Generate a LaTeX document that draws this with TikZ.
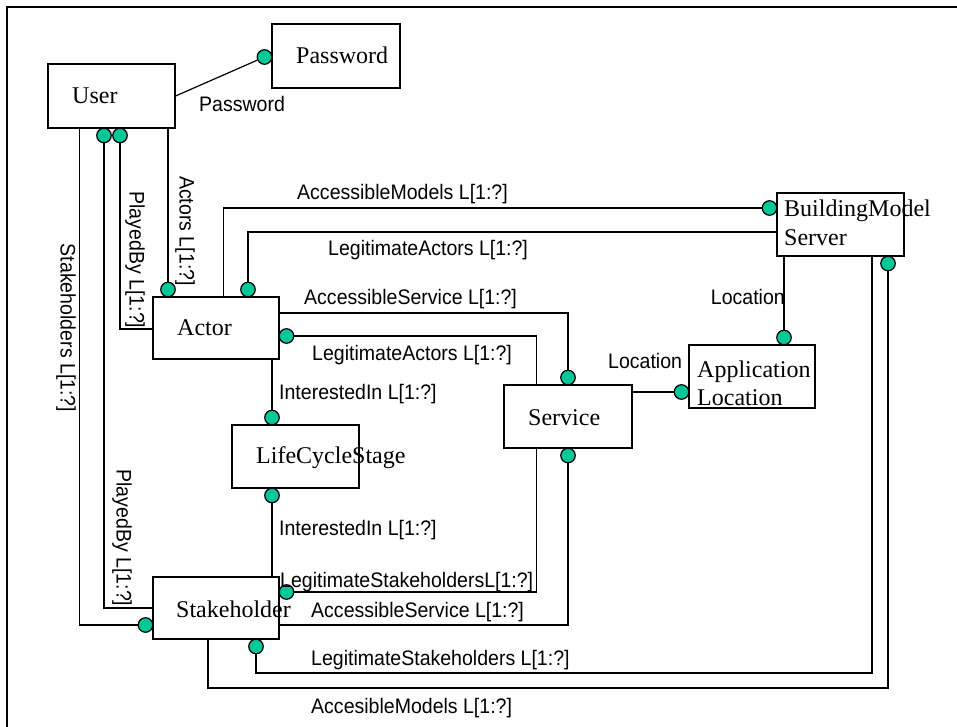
\documentclass[tikz,border=0pt]{standalone}
\usepackage{fontspec}
\setmainfont{Liberation Serif}
\newfontfamily\lblfont[FakeStretch=0.93]{Liberation Sans}
\definecolor{dotfill}{RGB}{0,200,150}
\tikzset{
  box/.style={draw, line width=1.2pt, minimum width=127pt, minimum height=63pt, inner sep=0pt},
  boxtext/.style={font=\fontsize{24}{28}\selectfont, inner sep=0pt, anchor=base west},
  lbl/.style={font=\lblfont\fontsize{21}{25}\selectfont, inner sep=0pt, anchor=base west},
  vlbl/.style={font=\lblfont\fontsize{21}{25}\selectfont, inner sep=0pt, rotate=-90},
  dot/.style={circle, draw, fill=dotfill, line width=1.2pt, minimum size=14.5pt, inner sep=0pt},
  conn/.style={line width=1.2pt},
}
\begin{document}
\begin{tikzpicture}[x=1pt,y=-1pt]
\useasboundingbox (0,0) rectangle (957,727);
% frame
\draw[line width=2pt] (7,727) -- (7,7) -- (957,7);

% entity boxes
\node[box, minimum width=127pt, minimum height=64pt] (user) at (111.5,96) {};
\node[box, minimum width=128pt, minimum height=64pt] (password) at (336,56) {};
\node[box, minimum width=126pt, minimum height=62pt] (actor) at (216,328) {};
\node[box] (bms) at (840.5,224.5) {};
\node[box, minimum width=126pt] (apploc) at (752,376.5) {};
\node[box, minimum width=128pt] (service) at (568,416.5) {};
\node[box] (lcs) at (295.5,456.5) {};
\node[box, minimum width=126pt, minimum height=62pt] (stake) at (216,608) {};

% box texts
\node[boxtext] (usert) at (72,104) {User};
\node[boxtext] (passwordt) at (296,64) {Password};
\node[boxtext] (actort) at (177,335) {Actor};
\node[boxtext] (bmst1) at (784,217) {BuildingModel};
\node[boxtext] (bmst2) at (784,245) {Server};
\node[boxtext] (apploct1) at (697,377) {Application};
\node[boxtext] (apploct2) at (697,405) {Location};
\node[boxtext] (servicet) at (528,425) {Service};
\node[boxtext] (lcst) at (256,463) {LifeCycleStage};
\node[boxtext] (staket) at (176,617) {Stakeholder};

% role ends
\node[dot] (dPw) at (264.5,57) {};
\node[dot] (dPlay1) at (104,135.5) {};
\node[dot] (dPlay2) at (120,135.5) {};
\node[dot] (dActU) at (168,289.5) {};
\node[dot] (dLA1) at (248,289.5) {};
\node[dot] (dAM1) at (769.5,208) {};
\node[dot] (dAS1) at (568,377.5) {};
\node[dot] (dLA2) at (286.5,336) {};
\node[dot] (dInt1) at (272,417.5) {};
\node[dot] (dInt2) at (272,495.5) {};
\node[dot] (dLoc1) at (681.5,392) {};
\node[dot] (dLoc2) at (784,337.5) {};
\node[dot] (dLS1) at (286.5,592) {};
\node[dot] (dAS2) at (568,455.5) {};
\node[dot] (dLS2) at (256,646.5) {};
\node[dot] (dAM2) at (888,263.5) {};
\node[dot] (dStk) at (145.5,625) {};

% bends of the two outer connectors
\coordinate (cLS) at (872,673);
\coordinate (cAM) at (888,688);

% connectors
\draw[conn] (user.east) -- (dPw);
\draw[conn] ([xshift=32pt]user.south west) |- (dStk);
\draw[conn] (dPlay1) |- (stake.west);
\draw[conn] (dPlay2) |- ([yshift=-1pt]actor.west);
\draw[conn] (user.south -| dActU) -- (dActU);
\draw[conn] ([xshift=71pt]actor.north west) |- (dAM1);
\draw[conn] (dLA1) |- ([yshift=-7.5pt]bms.west);
\draw[conn] ([yshift=15pt]actor.east) -| (dAS1);
\draw[conn] (dLA2) -| ([xshift=33pt]service.north west);
\draw[conn] (actor.south -| dInt1) -- (dInt1);
\draw[conn] (dInt2) -- (stake.north -| dInt2);
\draw[conn] (service.east |- dLoc1) -- (dLoc1);
\draw[conn] (bms.south -| dLoc2) -- (dLoc2);
\draw[conn] ([xshift=33pt]service.south west) |- (dLS1);
\draw[conn] ([yshift=-17pt]stake.east) -| (dAS2);
\draw[conn] (dLS2) |- (cLS) -- (bms.south -| cLS);
\draw[conn] ([xshift=-8pt]stake.south) |- (cAM) -- (dAM2);

% role labels
\node[lbl] (lPw) at (199,112) {Password};
\node[lbl] (lAM1) at (297,200) {AccessibleModels L[1:?]};
\node[lbl] (lLA1) at (328,255) {LegitimateActors L[1:?]};
\node[lbl] (lAS1) at (304,304) {AccessibleService L[1:?]};
\node[lbl] (lLA2) at (312,360) {LegitimateActors L[1:?]};
\node[lbl] (lLoc1) at (608,368) {Location};
\node[lbl, anchor=base east] (lLoc2) at (785,304) {Location};
\node[lbl] (lInt1) at (279,399) {InterestedIn L[1:?]};
\node[lbl] (lInt2) at (279,535) {InterestedIn L[1:?]};
\node[lbl] (lLS1) at (280,587) {LegitimateStakeholdersL[1:?]};
\node[lbl] (lAS2) at (311,617) {AccessibleService L[1:?]};
\node[lbl] (lLS2) at (311,665) {LegitimateStakeholders L[1:?]};
\node[lbl] (lAM2) at (311,713) {AccesibleModels L[1:?]};
\node[vlbl] (lAct) at (185,231) {Actors L[1:?]};
\node[vlbl] (lPlay2) at (135,260) {PlayedBy L[1:?]};
\node[vlbl] (lStk) at (66,328) {Stakeholders L[1:?]};
\node[vlbl] (lPlay1) at (122,538) {PlayedBy L[1:?]};
\end{tikzpicture}
\end{document}
